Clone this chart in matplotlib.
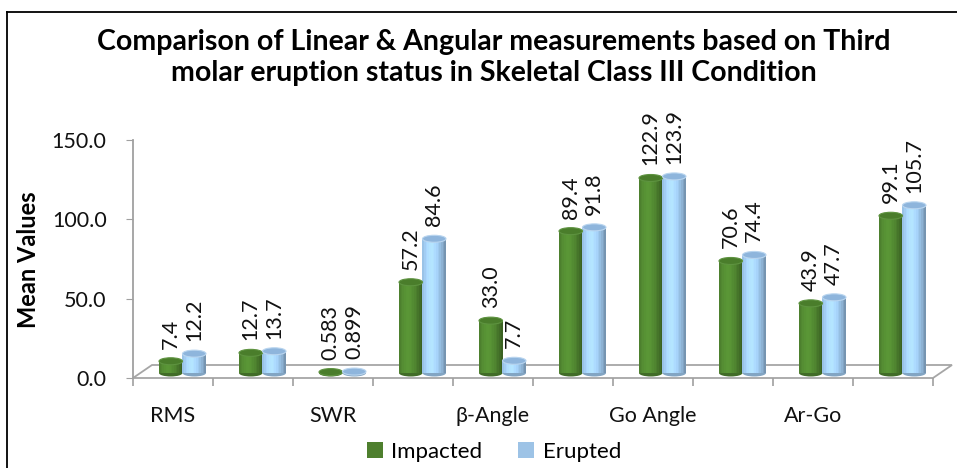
import matplotlib
matplotlib.use('Agg')
import matplotlib.pyplot as plt
import matplotlib.transforms as mtransforms
from matplotlib.patches import Ellipse, Polygon, Patch
from matplotlib.lines import Line2D
import numpy as np

# data
categories = ["RMS", "", "SWR", "", "β-Angle", "", "Go Angle", "", "Ar-Go", ""]
impacted = [7.4, 12.7, 0.583, 57.2, 33.0, 89.4, 122.9, 70.6, 43.9, 99.1]
erupted = [12.2, 13.7, 0.899, 84.6, 7.7, 91.8, 123.9, 74.4, 47.7, 105.7]
impacted_labels = ["7.4", "12.7", "0.583", "57.2", "33.0", "89.4", "122.9", "70.6", "43.9", "99.1"]
erupted_labels = ["12.2", "13.7", "0.899", "84.6", "7.7", "91.8", "123.9", "74.4", "47.7", "105.7"]
y_ticks = [0, 50, 100, 150]

title = ("Comparison of Linear & Angular measurements based on Third\n"
         "molar eruption status in Skeletal Class III Condition")

W, H = 957, 468
FONT = ["Lato", "DejaVu Sans"]
plt.rcParams['font.family'] = FONT

green = np.array([0.30, 0.50, 0.18])
blue = np.array([0.60, 0.76, 0.90])


def px(x, y):
    # pixel position (from top left) -> figure fraction
    return x / W, 1 - y / H


fig = plt.figure(figsize=(W / 100, H / 100), dpi=100)
l, b = px(133, 378)
r, t = px(933, 140)
ax = fig.add_axes([l, b, r - l, t - b])
ax.set_xlim(-0.5, len(categories) - 0.5)
ax.set_ylim(0, 150)

# pixels per data unit, used for the fake 3d depth
ppx = (933 - 133) / len(categories)
ppy = (378 - 140) / 150.0

# floor of the 3d plot
depth_x, depth_y = 19 / ppx, 13 / ppy
x0, x1 = -0.5, len(categories) - 0.5
floor = Polygon([(x0, 0), (x1, 0), (x1 + depth_x, depth_y), (x0 + depth_x, depth_y)],
                closed=True, facecolor="white", edgecolor="#a6a6a6", lw=1.3,
                clip_on=False, zorder=1)
ax.add_patch(floor)

# bars sit a bit behind the front edge
bar_tr = ax.transData + mtransforms.ScaledTranslation(9.5 / 100, 5 / 100, fig.dpi_scale_trans)

bw = 23.5 / ppx
n_strip = 14
eh = 7 / ppy
x = np.arange(len(categories))


def shade(tt):
    return 1.18 - 0.45 * (np.abs(tt - 0.38) / 0.62) ** 1.6


for vals, labels, base, off, cap, rim in [
        (impacted, impacted_labels, green, -bw / 2, "#4a7d2b", "#5e9340"),
        (erupted, erupted_labels, blue, bw / 2, "#8eb5dc", "#b9d5ef")]:
    vals = np.array(vals)
    xc = x + off
    left = xc - bw / 2
    # rounded bottom
    for xi in xc:
        ax.add_patch(Ellipse((xi, 0), bw, eh, transform=bar_tr,
                             facecolor=np.clip(base * 0.85, 0, 1), lw=0, zorder=2))
    # body made of strips to get the cylinder shading
    for j in range(n_strip):
        tt = (j + 0.5) / n_strip
        c = np.clip(base * shade(tt), 0, 1)
        ax.bar(left + tt * bw, vals, width=bw / n_strip * 1.05, color=c,
               lw=0, transform=bar_tr, zorder=3)
    # top caps
    for xi, v in zip(xc, vals):
        ax.add_patch(Ellipse((xi, v), bw, eh, transform=bar_tr,
                             facecolor=cap, edgecolor=rim, lw=0.8, zorder=4))
    for xi, v, s in zip(xc, vals, labels):
        ax.text(xi, v + eh / 2 + 9 / ppy, s, rotation=90, ha="center", va="bottom",
                fontsize=15.5, color="#111111", transform=bar_tr, zorder=5)

# axes styling
for s in ["top", "right", "bottom"]:
    ax.spines[s].set_visible(False)
ax.spines["left"].set_color("#a0a0a0")
ax.spines["left"].set_linewidth(1.3)
ax.set_yticks(y_ticks)
ax.set_yticklabels(["%.1f" % v for v in y_ticks], fontsize=15.5, color="#111111")
ax.tick_params(axis="y", length=5, color="#a0a0a0", pad=14)
ax.set_xticks(x)
ax.set_xticklabels(categories, fontsize=15.5, color="#111111")
ax.tick_params(axis="x", length=0, pad=20)
ax.set_xticks(np.arange(len(categories) + 1) - 0.5, minor=True)
ax.tick_params(axis="x", which="minor", length=6, color="#a0a0a0", width=1.2)

fig.text(*px(29, 260), "Mean Values", rotation=90, ha="center", va="center",
         fontsize=17, fontweight="bold")

fig.text(*px(494, 29), title, ha="center", va="top", fontsize=20.5,
         fontweight="bold", linespacing=1.24)

handles = [Patch(facecolor="#4e7f2e", edgecolor="none"),
           Patch(facecolor="#9dc3e6", edgecolor="none")]
fig.legend(handles, ["Impacted", "Erupted"], loc="center", bbox_to_anchor=px(494, 452),
           ncol=2, frameon=False, fontsize=16, handlelength=0.7, handleheight=0.7,
           handletextpad=0.4, columnspacing=1.6)

# frame lines of the original picture
fig.add_artist(Line2D([7 / W, 7 / W], [0, 1 - 12 / H], color="black", lw=1.3))
fig.add_artist(Line2D([7 / W, 1], [1 - 12 / H, 1 - 12 / H], color="black", lw=1.3))

fig.savefig("out.png", dpi=100)
